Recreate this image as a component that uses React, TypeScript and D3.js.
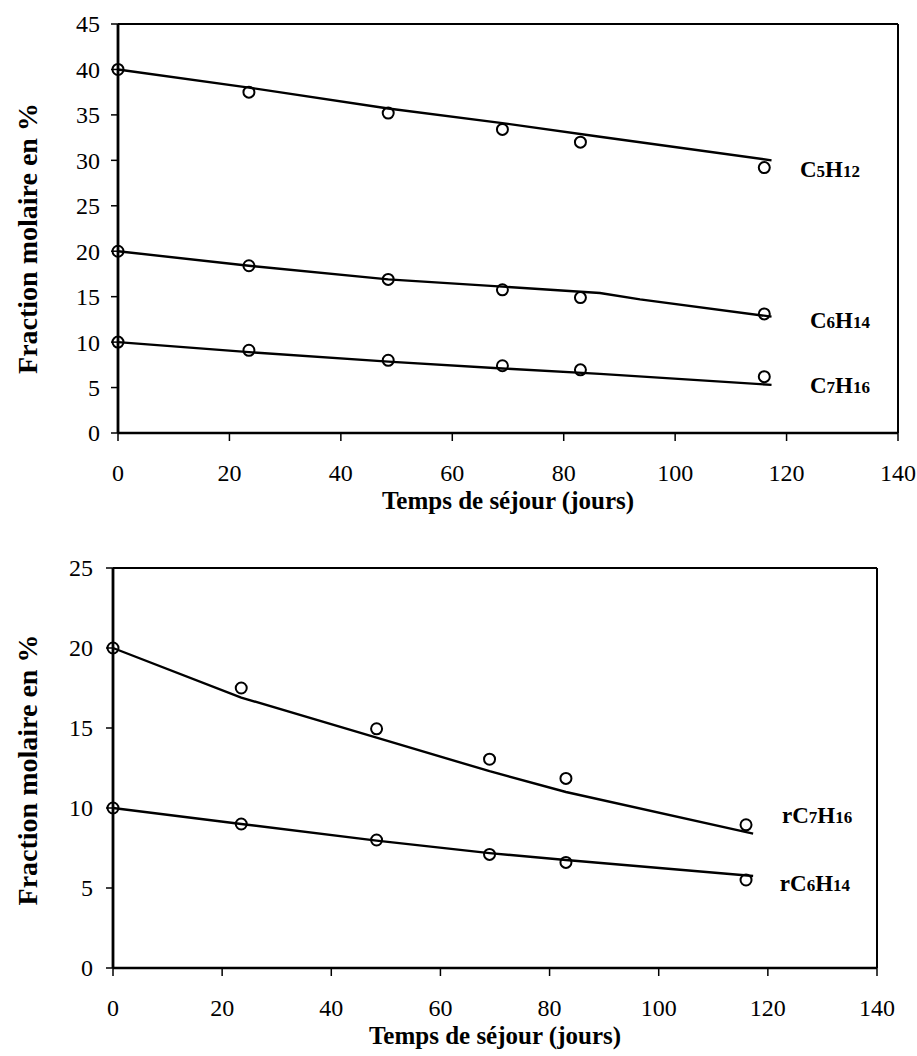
import React from "react";
import * as d3 from "d3";

// ---------- data ----------
const daysTop = [0, 23.5, 48.5, 69, 83, 116];
const c5h12 = [40, 37.5, 35.2, 33.4, 32.0, 29.2];
const c6h14 = [20, 18.4, 16.9, 15.75, 14.9, 13.1];
const c7h16 = [10, 9.1, 8.0, 7.4, 6.95, 6.2];

const c5h12FitDays = [0, 23.5, 48.5, 69, 86.5, 117.3];
const c5h12Fit = [40, 38.0, 35.7, 34.1, 32.6, 30.0];
const c6h14FitDays = [0, 23.5, 48.5, 69, 86.5, 93.7, 117.3];
const c6h14Fit = [20, 18.4, 16.9, 16.1, 15.4, 14.7, 12.8];
const c7h16FitDays = [0, 23.5, 48.5, 69, 86.5, 117.3];
const c7h16Fit = [10, 8.9, 7.85, 7.1, 6.5, 5.3];

const daysBottom = [0, 23.5, 48.3, 69, 83, 116];
const rc7h16 = [20, 17.5, 14.95, 13.05, 11.85, 8.95];
const rc6h14 = [10, 9.0, 8.0, 7.1, 6.6, 5.5];

const fitDaysBottom = [0, 23.5, 48.3, 69, 83, 117.3];
const rc7h16Fit = [20, 16.9, 14.4, 12.3, 11.0, 8.4];
const rc6h14Fit = [10, 9.0, 7.96, 7.18, 6.75, 5.75];

const xTicks = [0, 20, 40, 60, 80, 100, 120, 140];
const yTicksTop = [0, 5, 10, 15, 20, 25, 30, 35, 40, 45];
const yTicksBottom = [0, 5, 10, 15, 20, 25];

const xTitle = "Temps de séjour (jours)";
const yTitle = "Fraction molaire en %";

const FONT = "'Liberation Serif', 'Times New Roman', Times, serif";

type Series = {
  name: string;
  days: number[];
  values: number[];
  fitDays: number[];
  fit: number[];
  labelAt: [number, number];
};

type PanelProps = {
  left: number;
  right: number;
  top: number;
  bottom: number;
  yMax: number;
  yTicks: number[];
  series: Series[];
  yLabelGap: number;
  yTitleShift: number;
};

function Formula({ text, x, y }: { text: string; x: number; y: number }) {
  const parts = text.match(/[A-Za-z]+|\d+/g) || [];
  return (
    <text x={x} y={y} style={{ fontFamily: FONT }} fontWeight="bold" fill="#000">
      {parts.map((p, i) => (
        <tspan key={i} fontSize={/\d/.test(p) ? 17 : 23}>
          {p}
        </tspan>
      ))}
    </text>
  );
}

function Panel({ left, right, top, bottom, yMax, yTicks, series, yLabelGap, yTitleShift }: PanelProps) {
  const x = d3.scaleLinear().domain([0, 140]).range([left, right]);
  const y = d3.scaleLinear().domain([0, yMax]).range([bottom, top]);
  const line = d3
    .line<[number, number]>()
    .x((d) => x(d[0]))
    .y((d) => y(d[1]));

  return (
    <g>
      {/* frame */}
      <line x1={left} x2={right} y1={top} y2={top} stroke="#000" strokeWidth={2} />
      <line x1={right} x2={right} y1={top} y2={bottom} stroke="#000" strokeWidth={2} />
      <line x1={left} x2={right} y1={bottom} y2={bottom} stroke="#000" strokeWidth={2.5} />
      <line x1={left} x2={left} y1={top} y2={bottom} stroke="#000" strokeWidth={2.8} />

      {/* y ticks */}
      {yTicks.map((t) => (
        <g key={"y" + t}>
          <line x1={left - 7} x2={left} y1={y(t)} y2={y(t)} stroke="#000" strokeWidth={1.5} />
          <text
            x={left - yLabelGap}
            y={y(t)}
            dy="0.35em"
            textAnchor="end"
            style={{ fontFamily: FONT }}
            fontSize={24}
            fill="#000"
          >
            {t}
          </text>
        </g>
      ))}

      {/* x ticks */}
      {xTicks.map((t) => (
        <g key={"x" + t}>
          <line x1={x(t)} x2={x(t)} y1={bottom} y2={bottom + 8} stroke="#000" strokeWidth={1.5} />
          <text
            x={x(t)}
            y={bottom + 48}
            textAnchor="middle"
            style={{ fontFamily: FONT }}
            fontSize={24}
            fill="#000"
          >
            {t}
          </text>
        </g>
      ))}

      {/* titles */}
      <text
        x={(left + right) / 2}
        y={bottom + 76}
        textAnchor="middle"
        style={{ fontFamily: FONT }}
        fontWeight="bold"
        fontSize={25}
        fill="#000"
      >
        {xTitle}
      </text>
      <text
        transform={`translate(${37},${(top + bottom) / 2 + yTitleShift}) rotate(-90)`}
        textAnchor="middle"
        style={{ fontFamily: FONT }}
        fontWeight="bold"
        fontSize={28}
        fill="#000"
      >
        {yTitle}
      </text>

      {/* series */}
      {series.map((s) => (
        <g key={s.name}>
          <path
            d={line(s.fitDays.map((d, i) => [d, s.fit[i]] as [number, number])) || ""}
            fill="none"
            stroke="#000"
            strokeWidth={2.4}
          />
          {s.days.map((d, i) => (
            <circle
              key={i}
              cx={x(d)}
              cy={y(s.values[i])}
              r={5.5}
              fill="none"
              stroke="#000"
              strokeWidth={2}
            />
          ))}
          <Formula text={s.name} x={x(s.labelAt[0])} y={y(s.labelAt[1])} />
        </g>
      ))}
    </g>
  );
}

const topSeries: Series[] = [
  { name: "C5H12", days: daysTop, values: c5h12, fitDays: c5h12FitDays, fit: c5h12Fit, labelAt: [122.4, 28.2] },
  { name: "C6H14", days: daysTop, values: c6h14, fitDays: c6h14FitDays, fit: c6h14Fit, labelAt: [124.2, 11.55] },
  { name: "C7H16", days: daysTop, values: c7h16, fitDays: c7h16FitDays, fit: c7h16Fit, labelAt: [124.2, 4.4] },
];

const bottomSeries: Series[] = [
  { name: "rC7H16", days: daysBottom, values: rc7h16, fitDays: fitDaysBottom, fit: rc7h16Fit, labelAt: [122.6, 9.06] },
  { name: "rC6H14", days: daysBottom, values: rc6h14, fitDays: fitDaysBottom, fit: rc6h14Fit, labelAt: [122.2, 4.8] },
];

export default function App() {
  return (
    <svg
      width={917}
      height={1056}
      viewBox="0 0 917 1056"
      style={{ position: "absolute", left: 0, top: 0, background: "#fff", display: "block" }}
    >
      <rect x={0} y={0} width={917} height={1056} fill="#fff" />
      <Panel left={118} right={898} top={24} bottom={433} yMax={45} yTicks={yTicksTop} series={topSeries} yLabelGap={18} yTitleShift={10} />
      <Panel left={113} right={877} top={568} bottom={968} yMax={25} yTicks={yTicksBottom} series={bottomSeries} yLabelGap={20} yTitleShift={2} />
    </svg>
  );
}
